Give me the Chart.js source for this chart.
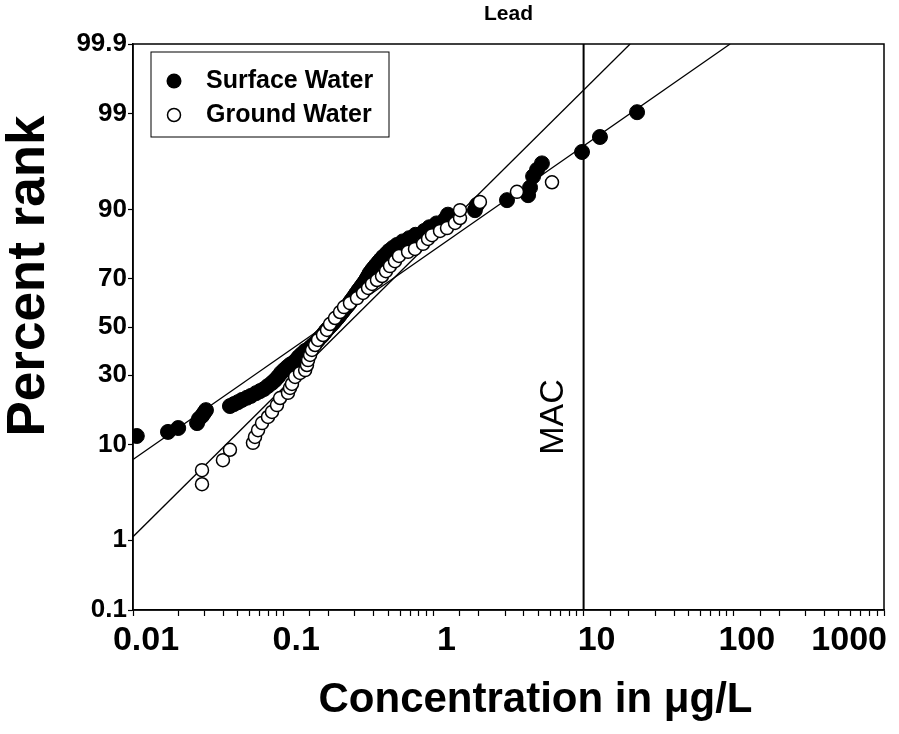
<!DOCTYPE html>
<html>
<head>
<meta charset="utf-8">
<title>Lead</title>
<script src="https://cdn.jsdelivr.net/npm/chart.js@4/dist/chart.umd.min.js"></script>
<style>
  html, body { margin: 0; padding: 0; background: #fff; }
  canvas { display: block; }
</style>
</head>
<body>
<canvas id="leadChart" width="899" height="734"></canvas>
<script>
// values: concentration (ug/L) and percent rank
const surfaceConc = [0.0106, 0.0171, 0.0200, 0.0267, 0.0275, 0.0288, 0.0297, 0.0306, 0.0442, 0.047,
  0.050, 0.0532, 0.0574, 0.061, 0.0659, 0.0701, 0.0745, 0.0792, 0.0842, 0.0882,
  0.0923, 0.0967, 0.1012, 0.106, 0.111, 0.116, 0.122, 0.127, 0.133, 0.140,
  0.148, 0.154, 0.159, 0.165, 0.170, 0.175, 0.181, 0.186, 0.191, 0.196,
  0.202, 0.209, 0.215, 0.221, 0.228, 0.234, 0.240, 0.247, 0.253, 0.260,
  0.268, 0.275, 0.281, 0.289, 0.296, 0.303, 0.311, 0.318, 0.327, 0.336,
  0.345, 0.354, 0.362, 0.370, 0.377, 0.389, 0.401, 0.414, 0.430, 0.446,
  0.462, 0.486, 0.507, 0.536, 0.572, 0.625, 0.69, 0.76, 0.87, 0.94,
  1.05, 1.2, 1.25, 1.89, 1.95, 3.09, 4.27, 4.40, 4.61, 4.90,
  5.28, 9.76, 12.85, 22.7];
const surfacePct = [11.7, 12.6, 13.5, 14.7, 15.8, 16.6, 17.4, 18.2, 19.4, 20.0,
  20.6, 21.3, 22.0, 22.6, 23.5, 24.2, 24.9, 26.0, 27.1, 28.1,
  29.3, 30.8, 31.9, 33.0, 34.0, 34.7, 35.9, 37.2, 38.4, 39.7,
  40.6, 41.5, 42.4, 43.3, 44.2, 45.2, 46.1, 47.0, 48.0, 48.9,
  49.8, 50.8, 51.7, 52.6, 53.6, 54.5, 55.4, 56.4, 57.3, 58.2,
  59.2, 60.1, 61.0, 62.0, 62.9, 63.8, 64.8, 65.7, 66.6, 67.6,
  68.5, 69.4, 70.4, 71.3, 72.2, 73.2, 74.1, 75.0, 76.0, 76.9,
  77.8, 78.8, 79.7, 80.6, 81.5, 82.5, 83.4, 84.3, 85.3, 86.2,
  87.1, 88.1, 89.0, 89.9, 90.9, 91.7, 92.5, 93.6, 95.0, 95.7,
  96.3, 97.2, 98.1, 99.05];

const groundConc = [0.0288, 0.0288, 0.0397, 0.0442, 0.0629, 0.0649, 0.068, 0.0723, 0.0792, 0.0842,
  0.0909, 0.0953, 0.1076, 0.111, 0.1144, 0.120, 0.1294, 0.140, 0.144, 0.1464,
  0.151, 0.1555, 0.163, 0.1705, 0.184, 0.1957, 0.205, 0.2213, 0.239, 0.254,
  0.2784, 0.310, 0.340, 0.367, 0.390, 0.421, 0.455, 0.4835, 0.514, 0.555,
  0.590, 0.678, 0.754, 0.853, 0.921, 0.979, 1.107, 1.232, 1.393, 1.504,
  1.504, 2.04, 3.60, 6.16];
const groundPct = [4.3, 5.9, 7.3, 9.0, 10.3, 11.5, 13.0, 14.7, 16.3, 17.7,
  19.7, 21.9, 23.6, 25.3, 26.7, 29.3, 30.8, 31.9, 33.9, 35.9,
  38.0, 40.1, 42.2, 44.4, 46.5, 48.7, 51.3, 53.9, 56.5, 58.6,
  60.3, 62.4, 64.5, 66.5, 68.1, 69.6, 71.1, 72.9, 74.7, 76.4,
  78.1, 79.4, 80.3, 81.8, 83.2, 84.2, 85.3, 86.0, 87.2, 88.3,
  89.9, 91.4, 93.0, 94.3];

// fitted lognormal lines (end points)
const surfaceFitConc = [0.01, 94.5];
const surfaceFitPct = [7.4, 99.9];
const groundFitConc = [0.01, 20.4];
const groundFitPct = [1.1, 99.9];

// maximum acceptable concentration
const macConc = 10;
const macLabelPct = 16.3;

const xTickValues = [0.01, 0.1, 1, 10, 100, 1000];
const xTickLabels = ["0.01", "0.1", "1", "10", "100", "1000"];
const yTickValues = [0.1, 1, 10, 30, 50, 70, 90, 99, 99.9];

const FONT = "'Liberation Sans', Arial, sans-serif";

// inverse normal cdf (Acklam)
function probit(p) {
  const a = [-39.69683028665376, 220.9460984245205, -275.9285104469687, 138.3577518672690, -30.66479806614716, 2.506628277459239];
  const b = [-54.47609879822406, 161.5858368580409, -155.6989798598866, 66.80131188771972, -13.28068155288572];
  const c = [-0.007784894002430293, -0.3223964580411365, -2.400758277161838, -2.549732539343734, 4.374664141464968, 2.938163982698783];
  const d = [0.007784695709041462, 0.3224671290700398, 2.445134137142996, 3.754408661907416];
  const plow = 0.02425;
  if (p < plow) {
    const q = Math.sqrt(-2 * Math.log(p));
    return (((((c[0] * q + c[1]) * q + c[2]) * q + c[3]) * q + c[4]) * q + c[5]) /
      ((((d[0] * q + d[1]) * q + d[2]) * q + d[3]) * q + 1);
  }
  if (p > 1 - plow) {
    const q = Math.sqrt(-2 * Math.log(1 - p));
    return -(((((c[0] * q + c[1]) * q + c[2]) * q + c[3]) * q + c[4]) * q + c[5]) /
      ((((d[0] * q + d[1]) * q + d[2]) * q + d[3]) * q + 1);
  }
  const q = p - 0.5, r = q * q;
  return (((((a[0] * r + a[1]) * r + a[2]) * r + a[3]) * r + a[4]) * r + a[5]) * q /
    (((((b[0] * r + b[1]) * r + b[2]) * r + b[3]) * r + b[4]) * r + 1);
}

function normCdf(z) {
  const t = 1 / (1 + 0.3275911 * Math.abs(z) / Math.SQRT2);
  const y = 1 - (((((1.061405429 * t - 1.453152027) * t) + 1.421413741) * t - 0.284496736) * t + 0.254829592) * t * Math.exp(-z * z / 2);
  return z >= 0 ? (1 + y) / 2 : (1 - y) / 2;
}

// normal probability axis (values in percent)
class ProbitScale extends Chart.Scale {
  static id = "probit";
  static defaults = {};
  determineDataLimits() {
    this.min = this.options.min;
    this.max = this.options.max;
  }
  buildTicks() {
    return yTickValues.map(v => ({ value: v }));
  }
  configure() {
    super.configure();
    this._zMin = probit(this.min / 100);
    this._zMax = probit(this.max / 100);
  }
  getPixelForValue(v) {
    return this.getPixelForDecimal((probit(v / 100) - this._zMin) / (this._zMax - this._zMin));
  }
  getValueForPixel(px) {
    const dec = this.getDecimalForPixel(px);
    return 100 * normCdf(this._zMin + dec * (this._zMax - this._zMin));
  }
}

// log axis whose labels sit a little right of the ticks, last one flush with the frame
class ConcScale extends Chart.LogarithmicScale {
  static id = "concentration";
  static defaults = Chart.LogarithmicScale.defaults;
  _computeLabelItems(chartArea) {
    const items = super._computeLabelItems(chartArea);
    items.forEach(item => {
      if (!item.label) return;
      if (item.label === xTickLabels[xTickLabels.length - 1]) {
        item.options.textAlign = "right";
        item.options.translation[0] = this.right + 3;
      } else {
        item.options.translation[0] += 13;
      }
    });
    return items;
  }
}

Chart.register(ProbitScale, ConcScale);

const toPoints = (xs, ys) => xs.map((x, i) => ({ x, y: ys[i] }));

// frame, legend, MAC label and axis titles
const decorations = {
  id: "decorations",
  afterDraw(chart) {
    const { ctx, chartArea: ca, scales } = chart;
    ctx.save();
    ctx.strokeStyle = "#000";
    ctx.fillStyle = "#000";
    ctx.lineWidth = 1.5;
    ctx.strokeRect(ca.left, ca.top, ca.right - ca.left, ca.bottom - ca.top);

    // legend box
    const lx = ca.left + 18, ly = ca.top + 8;
    ctx.lineWidth = 1;
    ctx.strokeRect(lx, ly, 238, 85);
    ctx.beginPath();
    ctx.arc(lx + 23, ly + 29, 7.5, 0, Math.PI * 2);
    ctx.fill();
    ctx.beginPath();
    ctx.arc(lx + 23, ly + 63, 6.5, 0, Math.PI * 2);
    ctx.fillStyle = "#fff";
    ctx.fill();
    ctx.lineWidth = 1.5;
    ctx.stroke();
    ctx.fillStyle = "#000";
    ctx.font = "bold 25px " + FONT;
    ctx.textAlign = "left";
    ctx.textBaseline = "middle";
    ctx.fillText("Surface Water", lx + 55, ly + 29);
    ctx.fillText("Ground Water", lx + 55, ly + 63);

    // MAC label
    ctx.save();
    ctx.translate(scales.x.getPixelForValue(macConc) - 30, scales.y.getPixelForValue(macLabelPct));
    ctx.rotate(-Math.PI / 2);
    ctx.font = "34px " + FONT;
    ctx.textAlign = "center";
    ctx.fillText("MAC", 0, 0);
    ctx.restore();

    // axis titles
    ctx.font = "bold 42px " + FONT;
    ctx.textAlign = "center";
    ctx.fillText("Concentration in \u03bcg/L", (ca.left + ca.right) / 2 + 27, ca.bottom + 90);
    ctx.save();
    ctx.translate(29, (ca.top + ca.bottom) / 2 - 51);
    ctx.rotate(-Math.PI / 2);
    ctx.font = "bold 53px " + FONT;
    ctx.fillText("Percent rank", 0, 0);
    ctx.restore();
    ctx.restore();
  }
};

const ctx = document.getElementById("leadChart").getContext("2d");

new Chart(ctx, {
  type: "scatter",
  data: {
    datasets: [
      {
        label: "Ground Water",
        data: toPoints(groundConc, groundPct),
        backgroundColor: "#fff",
        borderColor: "#000",
        borderWidth: 1.5,
        pointRadius: 6.5,
        order: 0
      },
      {
        label: "Surface Water",
        data: toPoints(surfaceConc, surfacePct),
        backgroundColor: "#000",
        borderColor: "#000",
        borderWidth: 1,
        pointRadius: 7.5,
        order: 1
      },
      {
        label: "Surface fit",
        data: toPoints(surfaceFitConc, surfaceFitPct),
        showLine: true,
        borderColor: "#000",
        borderWidth: 1.3,
        pointRadius: 0,
        order: 2
      },
      {
        label: "Ground fit",
        data: toPoints(groundFitConc, groundFitPct),
        showLine: true,
        borderColor: "#000",
        borderWidth: 1.3,
        pointRadius: 0,
        order: 3
      },
      {
        label: "MAC",
        data: [{ x: macConc, y: yTickValues[0] }, { x: macConc, y: yTickValues[yTickValues.length - 1] }],
        showLine: true,
        borderColor: "#000",
        borderWidth: 2,
        pointRadius: 0,
        order: 4
      }
    ]
  },
  options: {
    responsive: false,
    animation: false,
    layout: { padding: { left: 0, right: 15, top: 0, bottom: 0 } },
    plugins: {
      legend: { display: false },
      tooltip: { enabled: false },
      title: {
        display: true,
        text: "Lead",
        color: "#000",
        fullSize: false,
        font: { family: FONT, size: 21, weight: "bold" },
        padding: { top: 2, bottom: 16.8 }
      }
    },
    scales: {
      x: {
        type: "concentration",
        min: 0.01,
        max: 1000,
        afterFit: s => { s.height = 124; s.paddingLeft = 0; s.paddingRight = 0; },
        border: { display: true, color: "#000", width: 1.5 },
        grid: { display: true, drawOnChartArea: false, drawTicks: true, tickLength: 6, tickColor: "#000", tickWidth: 1.2 },
        ticks: {
          autoSkip: false,
          maxRotation: 0,
          padding: 4,
          color: "#000",
          font: { family: FONT, size: 34, weight: "bold" },
          callback: v => {
            const i = xTickValues.findIndex(t => Math.abs(Math.log10(t) - Math.log10(v)) < 1e-6);
            return i >= 0 ? xTickLabels[i] : "";
          }
        }
      },
      y: {
        type: "probit",
        min: 0.1,
        max: 99.9,
        afterFit: s => { s.width = 133; },
        border: { display: true, color: "#000", width: 1.5 },
        grid: { display: true, drawOnChartArea: false, drawTicks: true, tickLength: 5, tickColor: "#000", tickWidth: 1.2 },
        ticks: {
          autoSkip: false,
          padding: 1,
          color: "#000",
          font: { family: FONT, size: 26, weight: "bold" },
          callback: v => String(v)
        }
      }
    }
  },
  plugins: [decorations]
});
</script>
</body>
</html>
